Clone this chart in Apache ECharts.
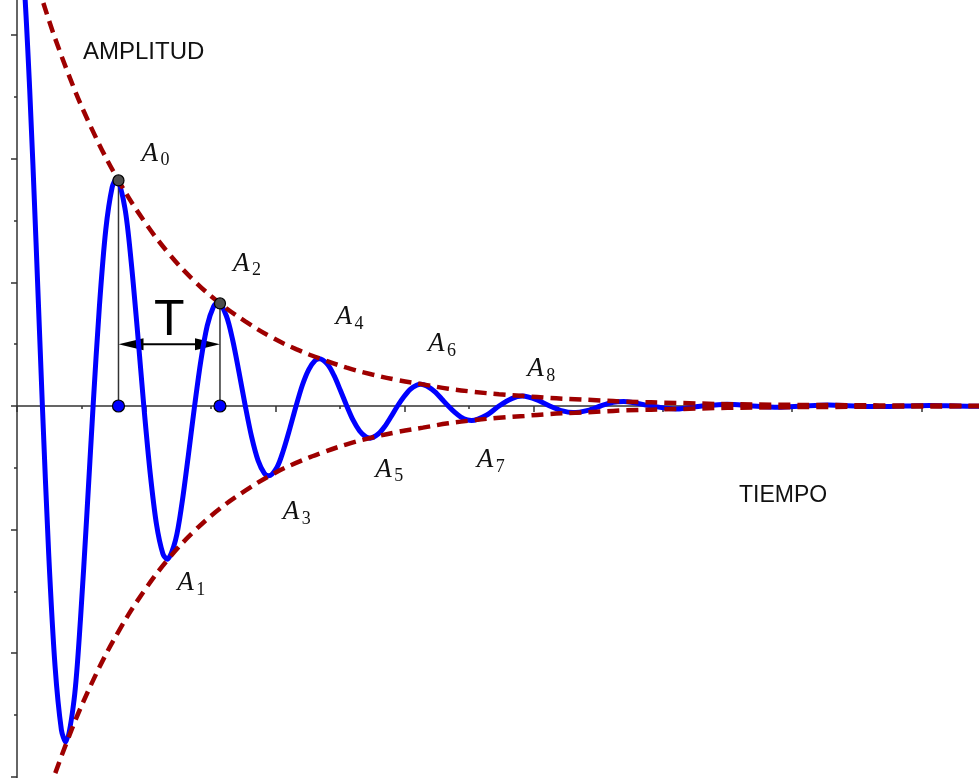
<!DOCTYPE html>
<html>
<head>
<meta charset="utf-8">
<script src="https://cdn.jsdelivr.net/npm/echarts@6/dist/echarts.min.js"></script>
<style>
  html, body { margin: 0; padding: 0; background: #ffffff; }
  #chart { width: 979px; height: 778px; }
</style>
</head>
<body>
<div id="chart"></div>
<script>
// Damped oscillation: displacement sampled along time (turning points included)
const timeValues = [0, 0.098, 0.196, 0.295, 0.393, 0.491, 0.589, 0.687, 0.754, 0.884, 0.982, 1.080,
  1.178, 1.276, 1.374, 1.473, 1.540, 1.669, 1.767, 1.865, 1.963, 2.062, 2.160, 2.258,
  2.325, 2.454, 2.553, 2.651, 2.749, 2.847, 2.945, 3.043, 3.111, 3.240, 3.338, 3.436,
  3.534, 3.632, 3.731, 3.829, 3.896, 4.025, 4.123, 4.222, 4.320, 4.418, 4.516, 4.614,
  4.681, 4.811, 4.909, 5.007, 5.105, 5.203, 5.301, 5.400, 5.467, 5.596, 5.694, 5.792,
  5.890, 5.989, 6.087, 6.185, 6.252, 6.381, 6.480, 6.578, 6.676, 6.774, 6.872, 6.970,
  7.038, 7.265, 7.461, 7.658, 7.823, 8.050, 8.247, 8.443, 8.608, 8.836, 9.032, 9.228,
  9.394, 9.817, 10.210, 10.603, 10.996, 11.388, 11.781, 12.174, 12.566, 12.959, 13.352,
  13.744, 14.137, 14.530, 14.923];
const displacement = [8.00, 7.04, 5.13, 2.64, 0, -2.40, -4.21, -5.24, -5.44, -4.75, -3.46, -1.78,
  0, 1.62, 2.85, 3.54, 3.68, 3.21, 2.34, 1.21, 0, -1.09, -1.92, -2.39,
  -2.48, -2.17, -1.58, -0.81, 0, 0.74, 1.30, 1.61, 1.68, 1.46, 1.07, 0.55,
  0, -0.50, -0.88, -1.09, -1.13, -0.99, -0.72, -0.37, 0, 0.34, 0.59, 0.735,
  0.765, 0.67, 0.49, 0.25, 0, -0.23, -0.40, -0.50, -0.52, -0.45, -0.33, -0.17,
  0, 0.15, 0.27, 0.335, 0.35, 0.30, 0.22, 0.11, 0, -0.10, -0.18, -0.226,
  -0.236, -0.15, 0, 0.12, 0.16, 0.10, 0, -0.08, -0.107, -0.07, 0, 0.06,
  0.072, 0, -0.05, 0, 0.03, 0, -0.02, 0, 0.015, 0, -0.01,
  0, 0.007, 0, -0.005];

// Exponential envelope (upper and lower)
const envelopeTime = [0, 0.393, 0.785, 1.178, 1.571, 1.963, 2.356, 2.749, 3.142, 3.534, 3.927,
  4.320, 4.712, 5.105, 5.498, 5.890, 6.283, 6.676, 7.069, 7.461, 7.854, 8.247, 8.639, 9.032, 9.425,
  10.210, 10.996, 11.781, 12.566, 13.352, 14.137, 14.923];
const envelopeUpper = [8.00, 6.57, 5.40, 4.44, 3.65, 3.00, 2.46, 2.02, 1.66, 1.37, 1.12,
  0.92, 0.76, 0.62, 0.51, 0.42, 0.35, 0.28, 0.23, 0.19, 0.16, 0.13, 0.11, 0.09, 0.07,
  0.05, 0.03, 0.02, 0.015, 0.01, 0.007, 0.005];
const envelopeLower = [-8.00, -6.57, -5.40, -4.44, -3.65, -3.00, -2.46, -2.02, -1.66, -1.37, -1.12,
  -0.92, -0.76, -0.62, -0.51, -0.42, -0.35, -0.28, -0.23, -0.19, -0.16, -0.13, -0.11, -0.09, -0.07,
  -0.05, -0.03, -0.02, -0.015, -0.01, -0.007, -0.005];

// Successive amplitudes A0 ... A8 (where the curve meets the envelope)
const extremaTime = [1.571, 2.356, 3.142, 3.927, 4.712, 5.498, 6.283, 7.069, 7.854];
const extremaValue = [3.65, -2.46, 1.66, -1.12, 0.76, -0.51, 0.35, -0.23, 0.16];
const extremaNames = ['0', '1', '2', '3', '4', '5', '6', '7', '8'];

// The period T is measured between A0 and A2
const periodPeaks = [0, 2];
const periodArrowLevel = 1.0;

// Axis ticks
const xTickInterval = 2, xRange = [0, 16];
const yTickInterval = 2, yRange = [-8, 8];

// ---- layout (pixels) ----
const labelOffsets = [[23, -27], [8, 25], [13, -40], [12, 37], [14, -42], [3, 32], [5, -40], [3, 40], [3, -27]];
const axisColor = '#333333';
const mathFont = '"Liberation Serif", "DejaVu Serif", serif';
const sansFont = '"Liberation Sans", Arial, sans-serif';

const zip = (a, b) => a.map((v, i) => [v, b[i]]);

function renderPeakLabel(params, api) {
  const pt = api.coord([api.value(0), api.value(1)]);
  const off = labelOffsets[params.dataIndex];
  const left = pt[0] + off[0];
  const cy = pt[1] + off[1];
  return {
    type: 'group',
    children: [
      { type: 'text', style: { text: 'A', x: left, y: cy, font: 'italic 27px ' + mathFont, fill: '#111',
          align: 'left', verticalAlign: 'middle' } },
      { type: 'text', style: { text: extremaNames[params.dataIndex], x: left + 19, y: cy + 7,
          font: '18px ' + mathFont, fill: '#111', align: 'left', verticalAlign: 'middle' } }
    ]
  };
}

function renderPeriod(params, api) {
  const t0 = api.value(0), a0 = api.value(1), t1 = api.value(2), a1 = api.value(3);
  const base0 = api.coord([t0, 0]), top0 = api.coord([t0, a0]);
  const base1 = api.coord([t1, 0]), top1 = api.coord([t1, a1]);
  const ay = api.coord([t0, periodArrowLevel])[1];
  const headLen = 25, headHalf = 6;
  const thin = { stroke: axisColor, lineWidth: 1.5 };
  return {
    type: 'group',
    children: [
      { type: 'line', shape: { x1: base0[0], y1: base0[1], x2: top0[0], y2: top0[1] }, style: thin },
      { type: 'line', shape: { x1: base1[0], y1: base1[1], x2: top1[0], y2: top1[1] }, style: thin },
      { type: 'line', shape: { x1: base0[0] + headLen - 2, y1: ay, x2: base1[0] - headLen + 2, y2: ay },
        style: { stroke: '#000', lineWidth: 2 } },
      { type: 'polygon', shape: { points: [[base0[0], ay], [base0[0] + headLen, ay - headHalf], [base0[0] + headLen, ay + headHalf]] },
        style: { fill: '#000' } },
      { type: 'polygon', shape: { points: [[base1[0], ay], [base1[0] - headLen, ay - headHalf], [base1[0] - headLen, ay + headHalf]] },
        style: { fill: '#000' } },
      { type: 'text', style: { text: 'T', x: (base0[0] + base1[0]) / 2, y: ay - 23, font: '50px ' + sansFont,
          fill: '#000', align: 'center', verticalAlign: 'middle' } }
    ]
  };
}

function valueAxis(range, interval) {
  return {
    type: 'value',
    min: range[0],
    max: range[1],
    interval: interval,
    axisLine: { show: true, onZero: true, lineStyle: { color: axisColor, width: 1.5 } },
    axisTick: { show: true, length: 6, lineStyle: { color: axisColor, width: 1.5 } },
    minorTick: { show: true, splitNumber: 2, length: 3, lineStyle: { color: axisColor, width: 1.5 } },
    axisLabel: { show: false },
    splitLine: { show: false },
    minorSplitLine: { show: false }
  };
}

const chart = echarts.init(document.getElementById('chart'), null, { renderer: 'canvas' });

const peakPairs = zip(extremaTime, extremaValue);
const periodRow = [extremaTime[periodPeaks[0]], extremaValue[periodPeaks[0]],
                   extremaTime[periodPeaks[1]], extremaValue[periodPeaks[1]]];

const envelopeStyle = { color: '#9e0000', width: 4.5, type: [12, 7] };

chart.setOption({
  animation: false,
  backgroundColor: '#ffffff',
  grid: { left: 17, top: -88.4, width: 1033.6, height: 988.8, outerBoundsMode: 'none' },
  xAxis: valueAxis(xRange, xTickInterval),
  yAxis: valueAxis(yRange, yTickInterval),
  graphic: [
    { type: 'text', style: { text: 'AMPLITUD', x: 83, y: 52, font: '24px ' + sansFont, fill: '#111',
        align: 'left', verticalAlign: 'middle' } },
    { type: 'text', style: { text: 'TIEMPO', x: 739, y: 496, font: '23px ' + sansFont, fill: '#111',
        align: 'left', verticalAlign: 'middle' } }
  ],
  series: [
    {
      type: 'custom',
      name: 'periodo',
      z: 1,
      renderItem: renderPeriod,
      data: [periodRow],
      encode: { x: [0, 2], y: [1, 3] }
    },
    {
      type: 'line',
      name: 'oscilación',
      z: 2,
      data: zip(timeValues, displacement),
      smooth: 0.3,
      showSymbol: false,
      lineStyle: { color: '#0000ff', width: 5, join: 'round', cap: 'round' }
    },
    {
      type: 'line',
      name: 'envolvente superior',
      z: 3,
      data: zip(envelopeTime, envelopeUpper),
      smooth: 0.4,
      showSymbol: false,
      lineStyle: envelopeStyle
    },
    {
      type: 'line',
      name: 'envolvente inferior',
      z: 3,
      data: zip(envelopeTime, envelopeLower),
      smooth: 0.4,
      showSymbol: false,
      lineStyle: envelopeStyle
    },
    {
      type: 'scatter',
      name: 'base',
      z: 5,
      symbolSize: 12,
      itemStyle: { color: '#0000ff', borderColor: '#000', borderWidth: 1.2, opacity: 1 },
      data: periodPeaks.map(i => [extremaTime[i], 0])
    },
    {
      type: 'scatter',
      name: 'picos',
      z: 5,
      symbolSize: 11,
      itemStyle: { color: '#4d4d4d', borderColor: '#000', borderWidth: 1.2, opacity: 1 },
      data: periodPeaks.map(i => [extremaTime[i], extremaValue[i]])
    },
    {
      type: 'custom',
      name: 'etiquetas',
      z: 6,
      renderItem: renderPeakLabel,
      data: peakPairs
    }
  ]
});
</script>
</body>
</html>
